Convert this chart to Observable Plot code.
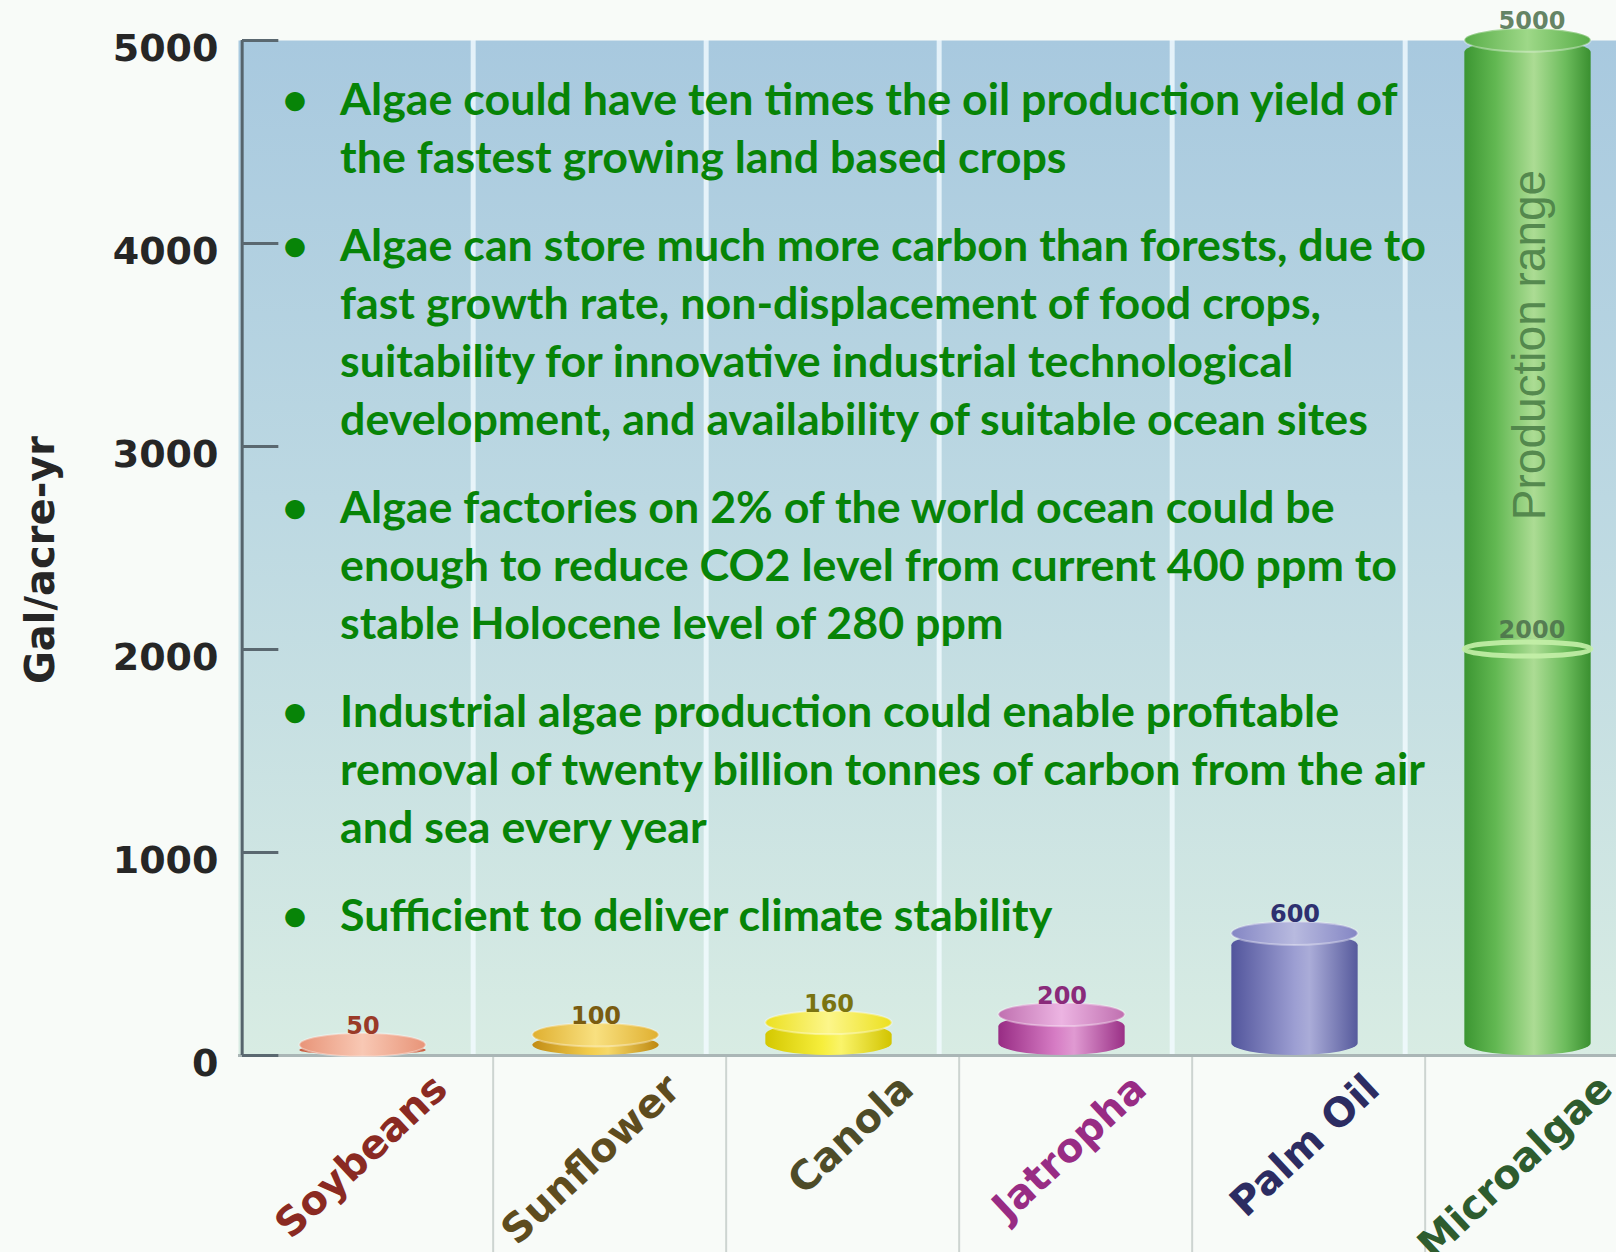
<!DOCTYPE html>
<html>
<head>
<meta charset="utf-8">
<script src="https://cdn.jsdelivr.net/npm/d3@7"></script>
<script src="https://cdn.jsdelivr.net/npm/@observablehq/plot@0.6"></script>
<style>
  html, body { margin: 0; padding: 0; background: #f8fbf8; overflow: hidden; }
  #wrap { position: relative; width: 1616px; height: 1252px; overflow: hidden; }
  #chart { position: absolute; left: 0; top: 0; }
  #notes { position: absolute; left: 270px; top: 70px; width: 1200px; color: #078407;
           font-family: Lato, "Open Sans", sans-serif; font-weight: bold; }
  .para { display: flex; margin-bottom: 31px; }
  .bul { width: 70px; flex: none; padding-left: 12px; box-sizing: border-box; }
  .txt { flex: none; }
  .line { white-space: nowrap; }
</style>
</head>
<body>
<div id="wrap">
  <div id="chart"></div>
  <div id="notes"></div>
</div>
<script>
// ---- data ----
const categories = ["Soybeans", "Sunflower", "Canola", "Jatropha", "Palm Oil", "Microalgae"];
const values = [50, 100, 160, 200, 600, 5000];
const valueLabels = ["50", "100", "160", "200", "600", ""];
const microalgaeRange = [2000, 5000];
const yTicks = [0, 1000, 2000, 3000, 4000, 5000];
const yLabel = "Gal/acre-yr";
const rangeLabel = "Production range";
const bullets = [
  ["Algae could have ten times the oil production yield of", "the fastest growing land based crops"],
  ["Algae can store much more carbon than forests, due to", "fast growth rate, non-displacement of food crops,", "suitability for innovative industrial technological", "development, and availability of suitable ocean sites"],
  ["Algae factories on 2% of the world ocean could be", "enough to reduce CO2 level from current 400 ppm to", "stable Holocene level of 280 ppm"],
  ["Industrial algae production could enable profitable", "removal of twenty billion tonnes of carbon from the air", "and sea every year"],
  ["Sufficient to deliver climate stability"]
];

// ---- styles ----
const gradStops = {
  soy:   [["0", "#c45a3c"], ["0.4", "#f0a286"], ["0.6", "#f4b49c"], ["1", "#c85e40"]],
  sun:   [["0", "#c28c14"], ["0.45", "#f2cc4c"], ["0.6", "#f6d868"], ["1", "#be8810"]],
  can:   [["0", "#d4c800"], ["0.45", "#f6ee3c"], ["0.6", "#faf46a"], ["1", "#d2c400"]],
  jat:   [["0", "#982c84"], ["0.45", "#d67cc4"], ["0.6", "#e09ad2"], ["1", "#9a3086"]],
  palm:  [["0", "#52559c"], ["0.5", "#9c9ed2"], ["0.62", "#aaacd8"], ["1", "#565a9c"]],
  micro: [["0", "#3c9632"], ["0.25", "#62b852"], ["0.55", "#acdc94"], ["0.8", "#6cbc5c"], ["1", "#3a9030"]]
};
const capStops = {
  soyC:   [["0", "#e89478"], ["0.5", "#f8c8b4"], ["1", "#e89478"]],
  sunC:   [["0", "#e0b030"], ["0.5", "#f8e080"], ["1", "#e0b030"]],
  canC:   [["0", "#ece020"], ["0.5", "#fcf68a"], ["1", "#ece020"]],
  jatC:   [["0", "#c070b0"], ["0.5", "#ecb4e2"], ["1", "#c070b0"]],
  palmC:  [["0", "#8486c4"], ["0.5", "#b8badf"], ["1", "#8486c4"]],
  microC: [["0", "#58ae48"], ["0.5", "#9ed888"], ["1", "#58ae48"]]
};
const bodyFill = {Soybeans: "url(#soy)", Sunflower: "url(#sun)", Canola: "url(#can)", Jatropha: "url(#jat)", "Palm Oil": "url(#palm)", Microalgae: "url(#micro)"};
const capFill = {Soybeans: "url(#soyC)", Sunflower: "url(#sunC)", Canola: "url(#canC)", Jatropha: "url(#jatC)", "Palm Oil": "url(#palmC)", Microalgae: "url(#microC)"};
const nameColor = {Soybeans: "#8a2a22", Sunflower: "#5e4c1e", Canola: "#4e4c28", Jatropha: "#982c84", "Palm Oil": "#2c2c62", Microalgae: "#2e5c2e"};
const valueColor = {Soybeans: "#9a3a28", Sunflower: "#7a5c10", Canola: "#7a7410", Jatropha: "#8a2a7a", "Palm Oil": "#2e3070", Microalgae: "#4a6e4a"};

const data = categories.map((name, i) => ({name, value: values[i], label: valueLabels[i]}));

const xRange = [238, 1640];
const bw = (xRange[1] - xRange[0]) / categories.length;
const barW = 127;
const inset = (bw - barW) / 2;
const capU = 58;   // half-height of the elliptical caps, in value units
const barDx = 6;
const bold = {fontWeight: "bold", fontFamily: "DejaVu Sans"};

const chart = Plot.plot({
  width: 1616, height: 1252,
  marginLeft: 238, marginRight: 0, marginTop: 40, marginBottom: 197,
  x: {domain: categories, range: xRange, padding: 0, axis: null},
  y: {domain: [0, 5000], axis: null},
  color: {type: "identity"},
  style: {background: "transparent", overflow: "visible"},
  marks: [
    Plot.frame({fill: "url(#bgGrad)", stroke: "none"}),
    Plot.ruleX(categories.slice(1), {x: d => d, dx: -bw / 2, y1: 0, y2: 5000, stroke: "#f2fbff", strokeOpacity: 0.8, strokeWidth: 5}),
    Plot.ruleX(categories.slice(1), {x: d => d, dx: -bw / 2 + 20, y1: 0, y2: -1000, stroke: "#cdd4d1", strokeWidth: 2}),
    Plot.ruleY([0], {stroke: "#aab6b6", strokeWidth: 3}),
    Plot.ruleX([categories[0]], {x: d => d, dx: -bw / 2 + 2, y1: 0, y2: 5000, stroke: "#56646c", strokeWidth: 3}),
    Plot.tickY(yTicks, {y: d => d, x: () => categories[0], insetLeft: 2, insetRight: bw - 39, stroke: "#5a6870", strokeWidth: 3}),
    Plot.text(yTicks, {y: d => d, text: d => String(d), frameAnchor: "left", dx: -20, dy: 8, textAnchor: "end", fontSize: 38, fill: "#262626", ...bold}),
    Plot.text([yLabel], {text: d => d, frameAnchor: "left", textAnchor: "middle", dx: -197, dy: 12, rotate: -90, fontSize: 40, fill: "#262626", ...bold}),
    // cylinder bodies
    Plot.barY(data, {x: "name", y1: 0, y2: "value", fill: d => bodyFill[d.name], insetLeft: inset, insetRight: inset, dx: barDx, rx: 64, ry: 12}),
    // microalgae ring at the low end of the production range
    Plot.barY([microalgaeRange[0]], {x: () => "Microalgae", y1: d => d - capU * 0.6, y2: d => d + capU * 0.6, fill: "none", stroke: "#c4f0a8", strokeWidth: 5, strokeOpacity: 0.9, insetLeft: inset, insetRight: inset, dx: barDx, rx: 64, ry: 10}),
    // cylinder caps
    Plot.barY(data, {x: "name", y1: d => d.value - capU, y2: d => d.value + capU, fill: d => capFill[d.name], stroke: "#ffffff", strokeOpacity: 0.35, strokeWidth: 2, insetLeft: inset, insetRight: inset, dx: barDx, rx: 64, ry: 12}),
    // value labels
    Plot.text(data.filter(d => d.label), {x: "name", y: "value", text: "label", dy: -19, dx: barDx, fontSize: 24, fill: d => valueColor[d.name], ...bold}),
    Plot.text(microalgaeRange, {x: () => "Microalgae", y: d => d, text: d => String(d), dy: -19, dx: barDx + 4, fontSize: 24, fill: valueColor.Microalgae, fillOpacity: 0.85, ...bold}),
    Plot.text([microalgaeRange], {x: () => "Microalgae", y: r => (r[0] + r[1]) / 2, text: () => rangeLabel, rotate: -90, dx: barDx + 2, fontSize: 46, fontFamily: "Liberation Sans", fill: "#4a7e46", fillOpacity: 0.9}),
    // category labels
    Plot.text(categories, {x: d => d, y: () => 0, text: d => d, rotate: -43, textAnchor: "end", dx: 84, dy: 27, fontSize: 40, fill: d => nameColor[d], ...bold})
  ]
});

// gradient definitions
const NS = "http://www.w3.org/2000/svg";
const defs = document.createElementNS(NS, "defs");
function addGrad(id, stops, vertical) {
  const g = document.createElementNS(NS, "linearGradient");
  g.setAttribute("id", id);
  g.setAttribute("x1", "0"); g.setAttribute("y1", "0");
  g.setAttribute("x2", vertical ? "0" : "1"); g.setAttribute("y2", vertical ? "1" : "0");
  for (const [o, c] of stops) {
    const s = document.createElementNS(NS, "stop");
    s.setAttribute("offset", o); s.setAttribute("stop-color", c);
    g.appendChild(s);
  }
  defs.appendChild(g);
}
addGrad("bgGrad", [["0", "#a8c9df"], ["0.45", "#bcd8e2"], ["1", "#d8ece3"]], true);
for (const [k, v] of Object.entries(gradStops)) addGrad(k, v, false);
for (const [k, v] of Object.entries(capStops)) addGrad(k, v, false);
chart.insertBefore(defs, chart.firstChild);
document.getElementById("chart").appendChild(chart);

// bullet notes
const notes = document.getElementById("notes");
const targetWidth = 1059;
const ctx = document.createElement("canvas").getContext("2d");
ctx.font = "bold 100px Lato";
const fs = 100 * targetWidth / ctx.measureText(bullets[0][0]).width;
notes.style.fontSize = fs.toFixed(2) + "px";
notes.style.lineHeight = "57.7px";
for (const para of bullets) {
  const p = document.createElement("div"); p.className = "para";
  const b = document.createElement("div"); b.className = "bul"; b.textContent = "•";
  const t = document.createElement("div"); t.className = "txt";
  for (const line of para) {
    const l = document.createElement("div"); l.className = "line"; l.textContent = line;
    t.appendChild(l);
  }
  p.appendChild(b); p.appendChild(t); notes.appendChild(p);
}
</script>
</body>
</html>
